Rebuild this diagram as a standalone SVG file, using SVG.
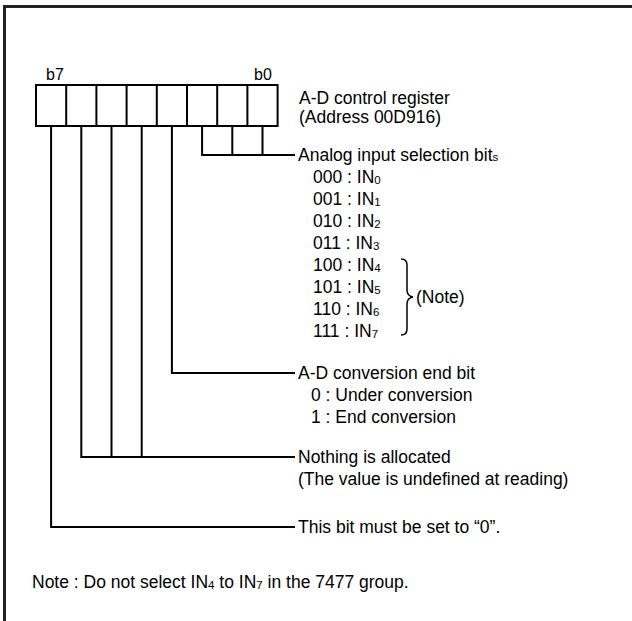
<svg xmlns="http://www.w3.org/2000/svg" width="632" height="621" viewBox="0 0 632 621">
<style>
text{font-family:"Liberation Sans",Arial,sans-serif;font-size:17.5px;fill:#000}
.lb{font-size:16px}
.sub{font-size:11.5px}
.ln{fill:none;stroke:#000;stroke-width:2}
.cell{fill:#fff;stroke:#000;stroke-width:2}
</style>
<rect width="632" height="621" fill="#fff"/>
<path d="M4.5,621 V6.5 H632" fill="none" stroke="#222" stroke-width="3"/>
<g id="register">
<text class="lb" x="46" y="80">b7</text>
<text class="lb" x="254" y="80">b0</text>
<rect class="cell" x="36" y="85" width="241.6" height="41"/>
<path class="ln" d="M66.2,85V126M96.4,85V126M126.6,85V126M156.8,85V126M187,85V126M217.2,85V126M247.4,85V126"/>
<text x="299" y="103.5">A-D control register</text>
<text x="299" y="123">(Address 00D916)</text>
</g>
<g id="connectors">
<path class="ln" d="M202.1,126V155H295M232.3,126V155M262.5,126V155"/>
<path class="ln" d="M171.9,126V373H295"/>
<path class="ln" d="M81.3,126V457H295M111.5,126V457M141.7,126V457"/>
<path class="ln" d="M51.1,126V527H295"/>
</g>
<g id="analog">
<text x="298" y="161.3">Analog input selection bit<tspan class="sub">s</tspan></text>
<text x="313" y="183.3">000 : IN<tspan class="sub" dy="1">0</tspan></text>
<text x="313" y="205.3">001 : IN<tspan class="sub" dy="1">1</tspan></text>
<text x="313" y="227.3">010 : IN<tspan class="sub" dy="1">2</tspan></text>
<text x="313" y="249.3">011 : IN<tspan class="sub" dy="1">3</tspan></text>
<text x="313" y="271.3">100 : IN<tspan class="sub" dy="1">4</tspan></text>
<text x="313" y="293.3">101 : IN<tspan class="sub" dy="1">5</tspan></text>
<text x="313" y="315.3">110 : IN<tspan class="sub" dy="1">6</tspan></text>
<text x="313" y="337.3">111 : IN<tspan class="sub" dy="1">7</tspan></text>
<path d="M401,259 Q407,259 407,265 V290 Q407,296 413,297 Q407,298 407,304 V329 Q407,335 401,335" fill="none" stroke="#000" stroke-width="1.5"/>
<text x="416" y="303.3">(Note)</text>
</g>
<g id="adend">
<text x="298" y="379.3">A-D conversion end bit</text>
<text x="311" y="401.3">0 : Under conversion</text>
<text x="311" y="423.3">1 : End conversion</text>
</g>
<g id="nothing">
<text x="298" y="463.3">Nothing is allocated</text>
<text x="298" y="485.3">(The value is undefined at reading)</text>
</g>
<g id="b7bit">
<text x="298" y="533.3">This bit must be set to “0”.</text>
</g>
<g id="note">
<text x="32" y="588">Note : Do not select IN<tspan class="sub" dy="1">4</tspan><tspan dy="-1"> to IN</tspan><tspan class="sub" dy="1">7</tspan><tspan dy="-1"> in the 7477 group.</tspan></text>
</g>
</svg>
